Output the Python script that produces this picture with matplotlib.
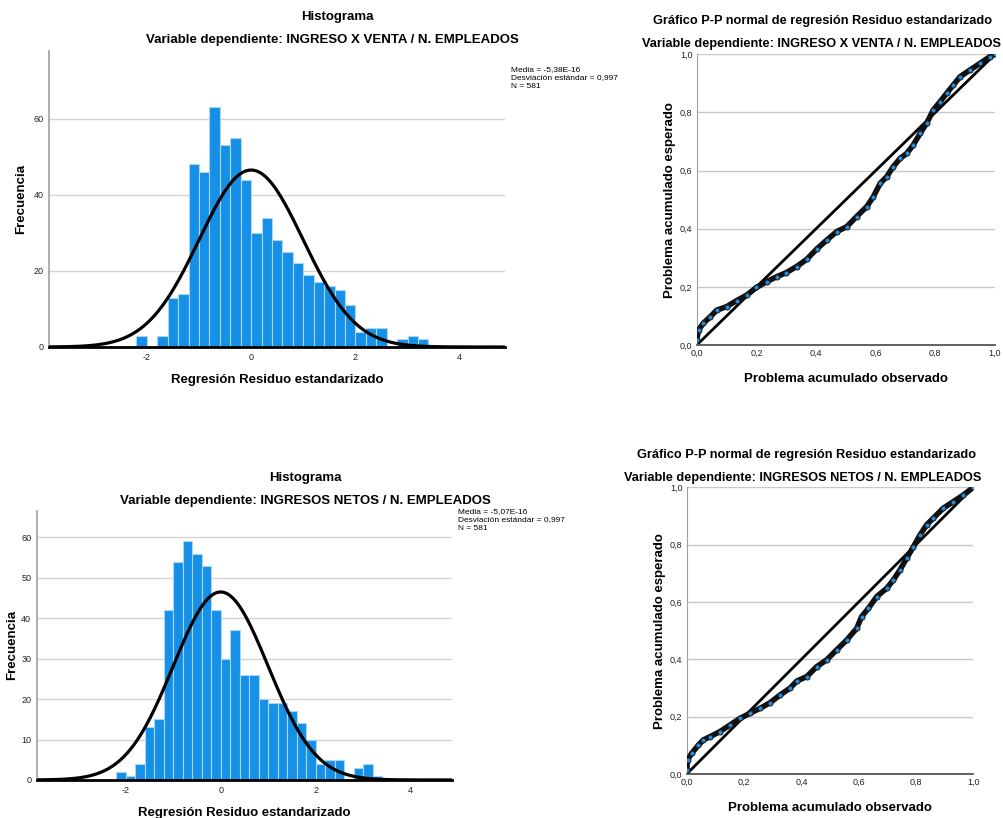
import numpy as np
import matplotlib
matplotlib.use('Agg')
import matplotlib.pyplot as plt
from matplotlib.ticker import FuncFormatter

plt.rcParams['font.family'] = ['Liberation Sans', 'DejaVu Sans']
plt.rcParams['axes.unicode_minus'] = False

# Histogram counts, bins of width 0.2 starting at -2.2
bin_start = -2.2
bin_width = 0.2
counts_venta = [3, 0, 3, 13, 14, 48, 46, 63, 53, 55, 44, 30, 34, 28, 25, 22, 19,
                17, 16, 15, 11, 4, 5, 5, 0, 2, 3, 2]
counts_netos = [2, 1, 4, 13, 15, 42, 54, 59, 56, 53, 42, 30, 37, 26, 26, 20, 19,
                19, 17, 14, 10, 4, 5, 5, 0, 3, 4, 1]
mean_venta, sd_venta, n_venta = -5.38e-16, 0.997, 581
mean_netos, sd_netos, n_netos = -5.07e-16, 0.997, 581

pp_obs_venta = [0.0, 0.006, 0.022, 0.045, 0.067, 0.1, 0.134, 0.168, 0.2, 0.235,
                0.268, 0.3, 0.335, 0.369, 0.402, 0.436, 0.469, 0.503, 0.536, 0.57,
                0.592, 0.615, 0.637, 0.659, 0.682, 0.704, 0.726, 0.749, 0.771,
                0.793, 0.816, 0.838, 0.86, 0.883, 0.916, 0.95, 0.983, 1.0]
pp_exp_venta = [0.017, 0.052, 0.075, 0.097, 0.12, 0.132, 0.153, 0.172, 0.198, 0.218,
                0.235, 0.249, 0.27, 0.295, 0.33, 0.361, 0.39, 0.407, 0.442, 0.476,
                0.51, 0.556, 0.579, 0.614, 0.642, 0.659, 0.688, 0.728, 0.763,
                0.808, 0.837, 0.866, 0.894, 0.923, 0.946, 0.969, 0.992, 1.0]
pp_obs_netos = [0.0, 0.003, 0.017, 0.041, 0.058, 0.081, 0.116, 0.151, 0.186, 0.221,
                0.256, 0.291, 0.326, 0.36, 0.384, 0.419, 0.453, 0.488, 0.523, 0.558,
                0.593, 0.61, 0.634, 0.663, 0.698, 0.721, 0.744, 0.767, 0.791, 0.814,
                0.837, 0.86, 0.895, 0.93, 0.965, 1.0]
pp_exp_netos = [0.014, 0.049, 0.072, 0.101, 0.119, 0.13, 0.148, 0.171, 0.194, 0.212,
                0.229, 0.249, 0.276, 0.299, 0.324, 0.34, 0.374, 0.398, 0.433, 0.467,
                0.508, 0.549, 0.578, 0.619, 0.648, 0.677, 0.712, 0.752, 0.793, 0.834,
                0.869, 0.892, 0.927, 0.95, 0.973, 1.0]

BLUE = '#1590e6'
comma = FuncFormatter(lambda v, p: ('%.1f' % v).replace('.', ','))
intfmt = FuncFormatter(lambda v, p: '%d' % v)


def histogram(ax, counts, mean, sd, n, ymax, ystep, ylpad):
    edges = bin_start + bin_width * np.arange(len(counts) + 1)
    ax.bar(edges[:-1], counts, width=bin_width, align='edge', color=BLUE,
           edgecolor='#a8d6f7', linewidth=0.8, zorder=2)
    xs = np.linspace(-3.87, 4.87, 400)
    ys = n * bin_width * np.exp(-0.5 * ((xs - mean) / sd) ** 2) / (sd * np.sqrt(2 * np.pi))
    ax.plot(xs, ys, color='black', lw=2.3, zorder=3)
    ax.set_xlim(-3.87, 4.87)
    ax.set_ylim(0, ymax)
    ax.set_xticks([-2, 0, 2, 4])
    ax.set_yticks(np.arange(0, ymax, ystep))
    ax.yaxis.set_major_formatter(intfmt)
    ax.grid(axis='y', color='#d4d4d4', lw=1, zorder=0)
    for s in ['top', 'right']:
        ax.spines[s].set_visible(False)
    ax.spines['left'].set_color('#a0a0a0')
    ax.spines['left'].set_linewidth(1.2)
    ax.spines['bottom'].set_color('black')
    ax.spines['bottom'].set_linewidth(2)
    ax.spines['bottom'].set_zorder(4)
    ax.tick_params(length=0, labelsize=6.5, colors='#222222', pad=4)
    ax.set_ylabel('Frecuencia', fontsize=9.5, fontweight='bold', labelpad=ylpad)
    ax.set_xlabel('Regresión Residuo estandarizado', fontsize=9.5, fontweight='bold', labelpad=9)


def ppplot(ax, obs, exp):
    ax.plot([0, 1], [0, 1], color='black', lw=2, zorder=2)
    ax.plot(obs, exp, color='#111111', lw=4, zorder=3)
    ax.plot(obs, exp, 'o', ms=3.6, mfc='#2a8ad4', mec='#0d1a2a', mew=0.7, zorder=4)
    ax.set_xlim(0, 1)
    ax.set_ylim(0, 1)
    ax.set_xticks(np.arange(0, 1.01, 0.2))
    ax.set_yticks(np.arange(0, 1.01, 0.2))
    ax.xaxis.set_major_formatter(comma)
    ax.yaxis.set_major_formatter(comma)
    ax.grid(axis='y', color='#c8c8c8', lw=1, zorder=0)
    for s in ['top', 'right']:
        ax.spines[s].set_visible(False)
    ax.spines['left'].set_color('#a0a0a0')
    ax.spines['bottom'].set_color('#555555')
    ax.spines['bottom'].set_linewidth(1.3)
    ax.tick_params(length=0, labelsize=6.5, colors='#222222', pad=3)
    ax.set_xlabel('Problema acumulado observado', fontsize=9.5, fontweight='bold', labelpad=11)
    ax.set_ylabel('Problema acumulado esperado', fontsize=9.5, fontweight='bold', labelpad=3)


fig = plt.figure(figsize=(10.04, 8.18), dpi=100)

ax1 = fig.add_axes([0.0491, 0.5758, 0.454, 0.362])
histogram(ax1, counts_venta, mean_venta, sd_venta, n_venta, 77.8, 20, 5)
ax2 = fig.add_axes([0.694, 0.5782, 0.297, 0.3554])
ppplot(ax2, pp_obs_venta, pp_exp_venta)
ax3 = fig.add_axes([0.0366, 0.0465, 0.4137, 0.3292])
histogram(ax3, counts_netos, mean_netos, sd_netos, n_netos, 66.6, 10, 2)
ax4 = fig.add_axes([0.684, 0.0538, 0.2855, 0.3505])
ppplot(ax4, pp_obs_netos, pp_exp_netos)

W, H = 1004.0, 818.0


def ftext(x, y, s, **kw):
    fig.text(x / W, 1 - y / H, s, **kw)


tkw = dict(fontsize=9.5, fontweight='bold', ha='center', va='center')
pkw = dict(fontsize=9.2, fontweight='bold', ha='center', va='center')
ftext(337, 17, 'Histograma', **tkw)
ftext(332, 40, 'Variable dependiente: INGRESO X VENTA / N. EMPLEADOS', **tkw)
ftext(823, 21, 'Gráfico P-P normal de regresión Residuo estandarizado', **pkw)
ftext(821, 44, 'Variable dependiente: INGRESO X VENTA / N. EMPLEADOS', **pkw)
ftext(305, 478, 'Histograma', **tkw)
ftext(305, 501, 'Variable dependiente: INGRESOS NETOS / N. EMPLEADOS', **tkw)
ftext(807, 455, 'Gráfico P-P normal de regresión Residuo estandarizado', **pkw)
ftext(803, 478, 'Variable dependiente: INGRESOS NETOS / N. EMPLEADOS', **pkw)

lkw = dict(fontsize=6, ha='left', va='top', linespacing=1.3)
ftext(511, 66, 'Media = -5,38E-16\nDesviación estándar = 0,997\nN = 581', **lkw)
ftext(458, 508, 'Media = -5,07E-16\nDesviación estándar = 0,997\nN = 581', **lkw)

fig.savefig('out.png', dpi=100)
